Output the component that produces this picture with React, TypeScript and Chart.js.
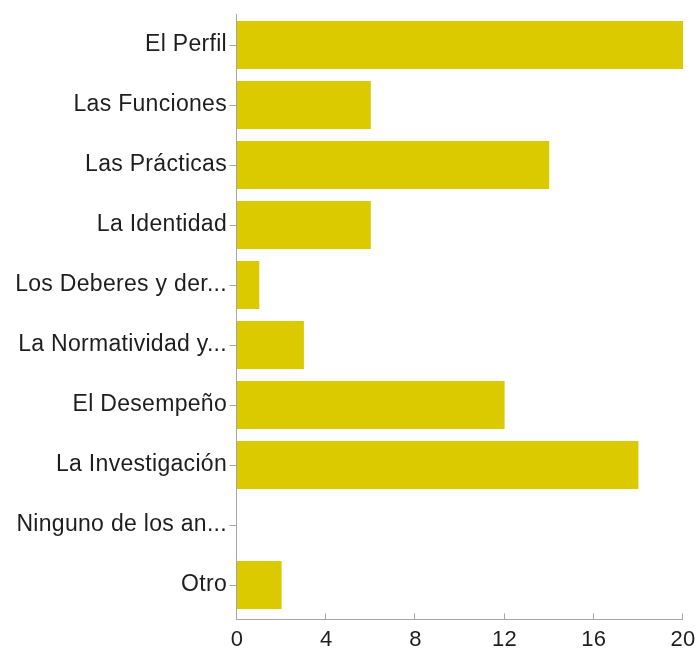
import React, { useEffect, useRef } from "react";
import { Chart, registerables } from "chart.js";

Chart.register(...registerables);

const categories = [
  "El Perfil",
  "Las Funciones",
  "Las Prácticas",
  "La Identidad",
  "Los Deberes y der...",
  "La Normatividad y...",
  "El Desempeño",
  "La Investigación",
  "Ninguno de los an...",
  "Otro",
];
const values = [20, 6, 14, 6, 1, 3, 12, 18, 0, 2];
const xTickMin = 0;
const xTickMax = 20;
const xTickStep = 4;

const AXIS_COLOR = "#a6a6a6";
const TEXT_COLOR = "#1e1e1e";
const BAR_COLOR = "#dcca00";
const FONT = "'Liberation Sans', Arial, Helvetica, sans-serif";

const axisPlugin = {
  id: "customAxes",
  beforeDraw(chart: any) {
    try {
      chart.ctx.letterSpacing = "0.3px";
    } catch (e) {}
  },
  afterDraw(chart: any) {
    const ctx = chart.ctx;
    const area = chart.chartArea;
    const xs = chart.scales.x;
    const ys = chart.scales.y;
    const axisY = area.bottom + 4.5;
    const axisX = area.left - 0.5;
    ctx.save();
    ctx.strokeStyle = AXIS_COLOR;
    ctx.lineWidth = 1;
    ctx.beginPath();
    ctx.moveTo(axisX, area.top - 1);
    ctx.lineTo(axisX, axisY);
    ctx.moveTo(axisX, axisY);
    ctx.lineTo(area.right, axisY);
    for (let v = xTickMin; v <= xTickMax; v += xTickStep) {
      const px = Math.round(xs.getPixelForValue(v)) - 0.5;
      ctx.moveTo(px, axisY);
      ctx.lineTo(px, axisY - 6);
    }
    for (let i = 0; i < categories.length; i++) {
      const py = Math.round(ys.getPixelForValue(i)) + 0.5;
      ctx.moveTo(axisX, py);
      ctx.lineTo(axisX - 7, py);
    }
    ctx.stroke();
    ctx.restore();
  },
};

export default function App() {
  const canvasRef = useRef<HTMLCanvasElement | null>(null);

  useEffect(() => {
    document.body.style.margin = "0";
    const canvas = canvasRef.current;
    if (!canvas) return;
    const chart = new Chart(canvas, {
      type: "bar",
      data: {
        labels: categories,
        datasets: [
          {
            data: values,
            backgroundColor: BAR_COLOR,
            borderWidth: 0,
            barPercentage: 0.8,
            categoryPercentage: 1,
          },
        ],
      },
      options: {
        indexAxis: "y",
        animation: false,
        responsive: true,
        maintainAspectRatio: false,
        layout: { padding: { top: 15, right: 15, left: 0, bottom: 0 } },
        plugins: {
          legend: { display: false },
          tooltip: { enabled: false },
        },
        scales: {
          x: {
            min: xTickMin,
            max: xTickMax,
            border: { display: false },
            grid: { display: false, drawTicks: false },
            ticks: {
              stepSize: xTickStep,
              padding: 12,
              color: TEXT_COLOR,
              font: { family: FONT, size: 22 },
              maxRotation: 0,
            },
            afterFit(scale: any) {
              scale.height = 35;
              scale.paddingLeft = 0;
              scale.paddingRight = 0;
            },
          },
          y: {
            border: { display: false },
            grid: { display: false, drawTicks: false },
            ticks: {
              autoSkip: false,
              padding: 10,
              color: TEXT_COLOR,
              font: { family: FONT, size: 23 },
            },
            afterFit(scale: any) {
              scale.width = 237;
              scale.paddingTop = 0;
              scale.paddingBottom = 0;
            },
          },
        },
      },
      plugins: [axisPlugin],
    });
    return () => chart.destroy();
  }, []);

  return (
    <div style={{ width: 698, height: 650, position: "relative" }}>
      <canvas ref={canvasRef} />
    </div>
  );
}
